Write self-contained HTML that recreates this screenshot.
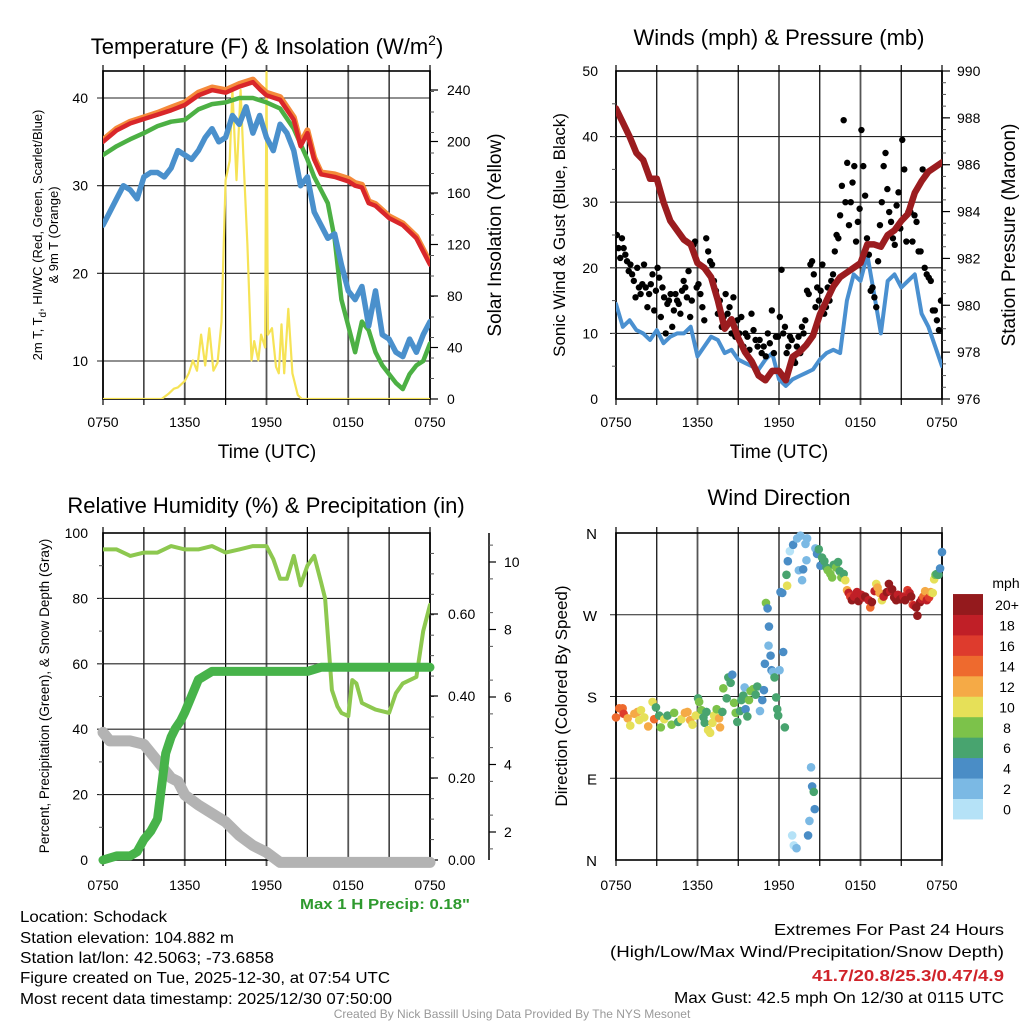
<!DOCTYPE html>
<html><head><meta charset="utf-8"><style>
html,body{margin:0;padding:0;background:#fff;}
svg{display:block;font-family:"Liberation Sans",sans-serif;}
</style></head><body>
<svg id="fig" width="1024" height="1024" viewBox="0 0 1024 1024" xmlns="http://www.w3.org/2000/svg">
<g id="layer"></g>
<g font-size="16" fill="#000">
<text x="20" y="922" textLength="147" lengthAdjust="spacingAndGlyphs">Location: Schodack</text>
<text x="20" y="943" textLength="214" lengthAdjust="spacingAndGlyphs">Station elevation: 104.882 m</text>
<text x="20" y="963" textLength="254" lengthAdjust="spacingAndGlyphs">Station lat/lon: 42.5063; -73.6858</text>
<text x="20" y="983" textLength="370" lengthAdjust="spacingAndGlyphs">Figure created on Tue, 2025-12-30, at 07:54 UTC</text>
<text x="20" y="1004" textLength="372" lengthAdjust="spacingAndGlyphs">Most recent data timestamp: 2025/12/30 07:50:00</text>
<text x="1004" y="935" text-anchor="end" textLength="230" lengthAdjust="spacingAndGlyphs">Extremes For Past 24 Hours</text>
<text x="1004" y="957" text-anchor="end" textLength="394" lengthAdjust="spacingAndGlyphs">(High/Low/Max Wind/Precipitation/Snow Depth)</text>
<text x="1004" y="981" text-anchor="end" fill="#d0232a" font-weight="bold" textLength="192" lengthAdjust="spacingAndGlyphs">41.7/20.8/25.3/0.47/4.9</text>
<text x="1004" y="1003" text-anchor="end" textLength="330" lengthAdjust="spacingAndGlyphs">Max Gust: 42.5 mph On 12/30 at 0115 UTC</text>
<text x="512" y="1018" text-anchor="middle" font-size="12" fill="#999">Created By Nick Bassill Using Data Provided By The NYS Mesonet</text>
<text x="385" y="909" text-anchor="middle" font-size="15" font-weight="bold" fill="#2e9a2e" textLength="170" lengthAdjust="spacingAndGlyphs">Max 1 H Precip: 0.18"</text>
</g>
</svg>
<script>
// ---------- DATA ----------
var tempTimes=[0,1,2,3,4,5,6,7,8,9,10,11,11.5,12,13,14,14.5,15,15.5,16,17,18,18.5,19,19.5,20,21,22,23,24];
var tempRed=[35,36.3,37.1,37.6,38.1,38.6,39.2,40.3,40.9,40.6,41.3,41.8,41.0,40.3,39.8,37.5,34.5,36,33,31.3,31,30.5,30,29.8,28,27.7,26.3,25.5,24,21];
var tempOrange=[35.2,36.5,37.3,37.8,38.3,38.9,39.5,40.6,41.2,40.9,41.6,42.1,41.3,40.6,40.1,37.8,34.8,36.3,33.2,31.5,31.3,30.8,30.3,30.1,28.2,27.9,26.5,25.7,24.2,21.2];
var tempTimesG=[0,1,2,3,4,5,6,7,8,9,10,11,12,13,14,15,15.5,16,16.5,17,17.5,18,18.5,19,19.5,20,20.5,21,21.5,22,22.5,23,23.5,24];
var tempGreen=[33.5,34.5,35.3,36,36.8,37.3,37.5,38.7,39.3,39.5,40,40,39.5,38.8,36.5,33,31,29.5,28,24,17,14,11,14.5,13.5,11,9.5,8.5,7.5,6.8,8.5,9.5,10,12];
var dewTimes=[0,0.5,1,1.5,2,2.5,3,3.5,4,4.5,5,5.5,6,6.5,7,7.5,8,8.5,9,9.5,10,10.5,11,11.5,12,12.5,13,13.5,14,14.5,15,15.5,16,16.5,17,17.5,18,18.5,19,19.5,20,20.5,21,21.5,22,22.5,23,23.5,24];
var dewBlue=[25.5,27,28.5,30,29.5,28.5,31,31.5,31.5,31,32,34,33.5,33,34,35.5,36.5,35,35.5,38,37,39,36,38,35.5,34,37,36,34,30,31,27,25.5,24,24.5,21,18,17,18.5,14,18,13,12.5,11,10.5,12.5,11,13,14.5];
var solarTimes=[0,4.3,4.8,5.2,5.5,6,6.3,6.6,6.9,7.2,7.5,7.8,8.1,8.4,8.7,9.0,9.3,9.5,9.8,10.1,10.3,10.6,10.9,11.1,11.4,11.6,11.9,12.0,12.1,12.4,12.7,12.9,13.1,13.3,13.6,13.9,14.3,14.6,24];
var solarVals=[0,0,4,8,9,14,20,30,22,50,26,55,22,28,60,170,185,240,170,240,190,120,30,45,30,50,40,254,50,55,25,20,58,20,70,20,3,0,0];
var windTimes=dewTimes;
var windVals=[14.5,11,12,10.5,10,9,10.5,8.5,9.5,10,10,11,6.5,8,9.5,9,7,7.5,6,5.5,5,4.5,6,7,3,2,3,3.5,4,4.5,6,7,7.5,7,15,19,18,22,16,10,18,19,17,18,19,13,11,8,5];
var gustGroups=[
[25,23,21.5,24.5,23,22,21,19.5,20.5,19,18,15.5,20,17,16,17.5,20.5,17,14,16,17.5,19,13.5,16.5],
[20,18.5,12.5,17,15.5,10,14.5,15,16,11,13.5,16,15,14.5,13,16.5,18,17,15.5,19.5,12.5,15,23.5,24,17],
[17.5,16,14,12,24.5,22.5,21,20.5,18,16.5,13,15,11,12.5,16,13,14,10,15.5,9.5,12],
[10,12.5,8,10,9.5,7.5,13,10.5,9,8,9,7,8,6.5,10,8.5,13.5,7,9.5,9.5],
[12.5,19.7,10,11,7,8,9.5,9,6,5.5,8,9.5,7,11,10,12,16.5,16,20.5,21,19,14,17,15],
[16.5,20.5,13,14,17,15,18,19,22.5,25,24.5,28,32.5,42.5,30,36,26.5,30,33,35.5,24,27,29],
[41,35.5,31,24.5,22,16.5,17,15.5,14,21,26.5,30,35.5,37.5,32,28.5,27,24.5,23.5,29.5,31.5,26],
[39.5,35,24,28.5,28.5,24,28,27,22.5,22.5,35,20,19,18.5,18,13.5,13.5,12,10.5,15]];
var presTimes=[0,0.5,1,1.5,2,2.5,3,3.5,4,4.5,5,5.5,6,6.5,7,7.5,8,8.5,9,9.5,10,10.5,11,11.5,12,12.5,13,13.5,14,14.5,15,15.5,16,16.5,17,17.5,18,18.5,19,19.5,20,20.5,21,21.5,22,22.5,23,23.5,24];
var presVals=[988.4,987.8,987.2,986.5,986.2,985.4,985.4,984.4,983.6,983.2,982.8,982.6,981.8,981.6,981.2,980.2,979.0,979.4,978.6,978.0,977.6,977.0,976.8,977.2,977.2,976.8,977.8,978.0,978.3,978.7,979.6,980.2,980.8,981.2,981.4,981.6,981.8,982.6,982.6,982.5,983.0,983.2,983.6,983.9,984.8,985.3,985.7,985.9,986.1];
var rhTimes=[0,1,2,3,4,5,6,7,8,9,10,11,12,12.5,13,13.5,14,14.5,15,15.5,16,16.3,16.8,17.2,17.5,18,18.3,18.6,19,19.5,20,21,21.5,22,23,23.5,24];
var rhVals=[95,95,93,94,94,96,95,95,96,94,95,96,96,92,86,86,93,84,90,93,85,80,52,47,45,44,55,54,48,47,46,45,51,54,56,70,78];
var precipTimes=[0,1,2,2.5,3,3.5,4,4.3,4.6,5,5.3,5.7,6,6.5,7,7.5,8,8.5,9,12,15,16,24];
var precipVals=[0,0.01,0.01,0.02,0.05,0.07,0.10,0.18,0.26,0.30,0.32,0.34,0.36,0.40,0.44,0.45,0.46,0.46,0.46,0.46,0.46,0.47,0.47];
var snowTimes=[0,0.5,1,2,3,4,5,5.5,6,7,8,9,10,11,12,13,24];
var snowVals=[4.95,4.7,4.7,4.7,4.6,4.1,3.6,3.5,3.1,2.8,2.55,2.3,1.9,1.6,1.4,1.1,1.1];
var dirTimes=[0,.24,.49,.56,.86,1.05,1.35,1.59,1.84,1.71,2.08,2.37,2.69,2.81,2.94,3.18,3.30,3.55,3.79,4.09,4.28,4.58,4.82,5.07,5.26,5.46,5.63,5.87,6.04,6.12,6.29,6.44,6.53,6.66,6.78,6.93,7.10,7.22,7.41,7.59,7.66,7.83,7.90,8.15,8.27,8.44,8.56,8.69,8.81,8.93,9.13,9.23,9.37,9.47,9.54,9.67,9.79,9.91,10.08,10.28,10.40,10.60,10.77,10.89,10.96,11.04,11.16,11.26,11.23,11.38,11.45,11.55,11.67,11.79,11.87,11.94,12.04,12.11,12.24,12.31,12.43,12.55,12.65,12.60,12.80,13.04,13.34,13.58,13.46,13.70,13.78,13.95,14.02,14.07,12.97,13.09,13.29,14.14,14.24,14.36,14.44,14.56,14.63,14.68,14.80,14.93,15.05,15.17,15.34,15.49,15.59,15.78,15.91,16.03,16.20,16.35,16.47,16.59,16.76,16.88,17.01,17.13,17.25,17.37,17.54,17.74,17.86,18.06,18.23,18.35,18.60,18.72,18.84,19.04,19.16,19.26,19.40,19.58,19.70,19.94,20.09,20.19,20.33,20.48,20.63,20.75,20.92,21.17,21.29,21.46,21.61,21.73,21.85,21.97,22.10,22.19,22.39,22.51,22.63,22.76,22.88,23.05,23.17,23.32,23.42,23.52,23.61,23.74,23.86,24];
var dirVals=[157,167,167,161,156,148,161,163,165,154,157,147,174,155,168,159,146,155,159,149,162,152,155,162,163,154,149,159,178,174,165,157,151,163,143,140,151,159,166,156,146,163,189,178,201,195,204,173,162,152,164,176,181,190,166,158,176,186,188,182,191,164,176,187,216,283,277,257,236,225,209,207,201,179,166,159,209,295,294,229,146,314,329,302,340,347,354,357,319,308,320,348,330,354,27,16,13,27,43,102,81,75,56,343,337,342,324,333,329,322,319,315,311,325,322,328,318,311,315,308,297,294,290,286,290,295,285,292,289,290,286,278,284,296,304,300,294,286,290,295,304,296,298,289,286,292,287,290,286,297,294,290,281,280,278,269,284,287,290,296,286,289,295,294,309,314,315,314,321,339];
var dirSpeeds=[15,14,15,16,12,10,12,13,10,10,10,12,10,15,6,7,8,10,7,8,8,6,10,12,13,13,10,10,6,8,8,7,6,6,10,10,10,10,8,12,13,6,8,6,6,6,4,8,8,6,6,6,7,2,4,6,8,8,8,7,6,2,4,4,4,8,4,4,2,4,4,2,7,6,6,6,2,4,4,4,6,7,4,10,0,4,2,2,2,2,4,2,2,2,0,0,2,4,2,2,4,6,4,2,4,6,4,6,6,6,8,8,8,6,8,6,6,8,6,10,12,18,16,20,18,18,20,18,18,20,18,14,20,18,10,12,12,10,18,20,20,18,20,20,20,18,20,18,20,16,18,20,16,18,20,20,20,18,14,12,18,16,12,10,10,8,7,6,4,4];
var speedColors=["#b5e2f7","#7bb9e4","#4a8dc6","#48a46f","#7cc24a","#e6e058","#f5aa46","#ee6a2e","#de3b2d","#c01f27","#941a1d"];
var speedLabels=["0","2","4","6","8","10","12","14","16","18","20+"];
var timeLabels=["0750","1350","1950","0150","0750"];
var tempTicks=[10,20,30,40];
var solarTicks=[0,40,80,120,160,200,240];
var windTicks=[0,10,20,30,40,50];
var presTicks=[976,978,980,982,984,986,988,990];
var rhTicks=[0,20,40,60,80,100];
var precipTicks=[0,0.2,0.4,0.6];
var snowTicks=[2,4,6,8,10];
var dirTicks=[0,90,180,270,360];
var dirLabels=["N","E","S","W","N"];

// ---------- HELPERS ----------
var NS="http://www.w3.org/2000/svg";
var root=document.getElementById('layer');
function mk(tag,attrs,parent){var e=document.createElementNS(NS,tag);for(var k in attrs)e.setAttribute(k,attrs[k]);(parent||root).appendChild(e);return e;}
function lin(d0,d1,r0,r1){return function(v){return r0+(v-d0)/(d1-d0)*(r1-r0);};}
function pathD(xs,ys,fx,fy){var s="";for(var i=0;i<xs.length;i++){s+=(i?"L":"M")+fx(xs[i]).toFixed(1)+","+fy(ys[i]).toFixed(1);}return s;}
var clipN=0;
function panel(name,L,R,T,B){
  var g=mk('g',{});
  
  
  var id='clip'+(clipN++);
  var cp=mk('clipPath',{id:id},g);mk('rect',{x:L,y:T,width:R-L,height:B-T},cp);
  return {g:g,clip:'url(#'+id+')',L:L,R:R,T:T,B:B,x:lin(0,24,L,R)};
}
function grid(p,yvals,fy){
  for(var i=0;i<=8;i++){var x=p.x(i*3);
    var l=mk('line',{x1:x,x2:x,y1:p.T-6,y2:p.B+6,stroke:i%2?'#000':'#555','stroke-width':i%2?1.2:1.8},p.g);
    
    }
  yvals.forEach(function(v){var y=fy(v);
    var l=mk('line',{x1:p.L-6,x2:p.R,y1:y,y2:y,stroke:'#222','stroke-width':1.1},p.g);
    
    });
  var f=mk('rect',{x:p.L,y:p.T,width:p.R-p.L,height:p.B-p.T,fill:'none',stroke:'#000','stroke-width':1.6},p.g);
  
  
}
function xlabels(p,y){
  timeLabels.forEach(function(s,i){var t=mk('text',{x:p.x(i*6),y:y,'text-anchor':'middle','font-size':14},p.g);t.textContent=s;
    
    });
}
function txt(p,s,x,y,size,anchor,rot,name,fill){
  var a={x:x,y:y,'font-size':size,'text-anchor':anchor||'middle'};
  if(rot)a.transform='rotate(-90 '+x+' '+y+')';
  if(fill)a.fill=fill;
  var t=mk('text',a,p.g);t.textContent=s;
  
  
  return t;
}
function yticks(p,vals,fy,xText,anchor,fmt,name,side){
  vals.forEach(function(v){var y=fy(v);
    if(side==='right'){var l=mk('line',{x1:p.R,x2:p.R+8,y1:y,y2:y,stroke:'#000','stroke-width':1.2},p.g);
      
      }
    var t=mk('text',{x:xText,y:y+5,'text-anchor':anchor,'font-size':14},p.g);t.textContent=fmt?fmt(v):v;
    
    });
}
function minor(p,x,y0,y1,n,dir){
  for(var i=1;i<n;i++){var y=y0+(y1-y0)*i/n;
    var l=mk('line',{x1:x,x2:x+dir*4,y1:y,y2:y,stroke:'#555','stroke-width':1},p.g);
    
    }
}
function line(p,xs,ys,fy,color,w,name){
  var e=mk('path',{d:pathD(xs,ys,p.x,fy),fill:'none',stroke:color,'stroke-width':w,'stroke-linejoin':'round','stroke-linecap':'round','clip-path':p.clip},p.g);
  
  
  return e;
}

// ---------- PANEL 1: Temperature ----------
(function(){
  var p=panel('temperature-panel',103,430,71,399);
  var fy=lin(10,40,361,98), fs=lin(0,240,399,90);
  grid(p,tempTicks,fy);
  minor(p,p.R,p.T,p.B,16,1);
  yticks(p,tempTicks,fy,88,'end',null,'y-tick-label');
  yticks(p,solarTicks,fs,447,'start',null,'y2-tick-label','right');
  line(p,solarTimes,solarVals,fs,'#f6e356',2.2,'solar-line');
  line(p,tempTimesG,tempGreen,fy,'#4cb044',4.5,'heat-index-line');
  line(p,dewTimes,dewBlue,fy,'#4a90cc',5.5,'dewpoint-line');
  line(p,tempTimes,tempOrange,fy,'#f58a3a',6,'temp-9m-line');
  line(p,tempTimes,tempRed,fy,'#d9262a',4.5,'temp-2m-line');
  xlabels(p,427);
  txt(p,'Time (UTC)',267,458,19,'middle',false,'x-axis-title');
  var t=txt(p,'',267,54,22,'middle',false,'chart-title');
  t.innerHTML='Temperature (F) &amp; Insolation (W/m<tspan dy="-9" font-size="14">2</tspan><tspan dy="9">)</tspan>';
  var a=txt(p,'',42,235,13,'middle',true,'y-axis-title');
  a.innerHTML='2m T, T<tspan dy="4" font-size="10">d</tspan><tspan dy="-4">, HI/WC (Red, Green, Scarlet/Blue)</tspan>';
  txt(p,'& 9m T (Orange)',58,235,13,'middle',true,'y-axis-title-2');
  txt(p,'Solar Insolation (Yellow)',501,235,19,'middle',true,'y2-axis-title');
})();

// ---------- PANEL 2: Winds ----------
(function(){
  var p=panel('winds-panel',616,942,71,399);
  var fy=lin(0,50,399,71), fp=lin(976,990,399,71);
  grid(p,[10,20,30,40],fy);
  minor(p,p.R,p.T,p.B,28,1);
  minor(p,p.L,p.T,p.B,10,-1);
  yticks(p,windTicks,fy,598,'end',null,'y-tick-label');
  yticks(p,presTicks,fp,957,'start',null,'y2-tick-label','right');
  line(p,windTimes,windVals,fy,'#4a90d0',4,'wind-line');
  gustGroups.forEach(function(grp,gi){
    grp.forEach(function(v,i){
      var c=mk('circle',{cx:p.x(gi*3+(i+0.5)/grp.length*3),cy:fy(v),r:3.2,fill:'#000','clip-path':p.clip},p.g);
      
      
    });
  });
  line(p,presTimes,presVals,fp,'#9b1c1f',6.5,'pressure-line');
  xlabels(p,427);
  txt(p,'Time (UTC)',779,458,19,'middle',false,'x-axis-title');
  txt(p,'Winds (mph) & Pressure (mb)',779,45,22,'middle',false,'chart-title');
  txt(p,'Sonic Wind & Gust (Blue, Black)',565,235,17,'middle',true,'y-axis-title');
  txt(p,'Station Pressure (Maroon)',1015,235,19,'middle',true,'y2-axis-title');
})();

// ---------- PANEL 3: RH & Precip ----------
(function(){
  var p=panel('humidity-panel',103,430,533,860);
  var fy=lin(0,100,860,533), fpr=lin(0,0.6,860,614), fsn=lin(2,10,832,562);
  grid(p,[20,40,60,80],fy);
  minor(p,p.R,p.T,p.B,16,1);
  minor(p,p.L,p.T,p.B,10,-1);
  yticks(p,rhTicks,fy,88,'end',null,'y-tick-label');
  yticks(p,precipTicks,fpr,448,'start',function(v){return v.toFixed(2);},'y2-tick-label','right');
  var ax=mk('line',{x1:489,x2:489,y1:533,y2:860,stroke:'#000','stroke-width':1.5},p.g);
  
  
  snowTicks.forEach(function(v){var y=fsn(v);
    var l=mk('line',{x1:489,x2:496,y1:y,y2:y,stroke:'#000','stroke-width':1.2},p.g);
    
    
    var t=mk('text',{x:504,y:y+5,'font-size':14},p.g);t.textContent=v;
    
    });
  for(var i=0;i<10;i++){var y=fsn(1.5+i);if(y<533||y>860)continue;
    var l=mk('line',{x1:489,x2:493,y1:y,y2:y,stroke:'#555'},p.g);
    
    }
  var sp=mk('path',{d:pathD(snowTimes,snowVals,p.x,fsn),fill:'none',stroke:'#b3b3b3','stroke-width':11,'stroke-linejoin':'round','stroke-linecap':'round'},p.g);
  
  
  line(p,rhTimes,rhVals,fy,'#8dc84f',4,'rh-line');
  var pp=mk('path',{d:pathD(precipTimes,precipVals,p.x,fpr),fill:'none',stroke:'#47b34a','stroke-width':9,'stroke-linejoin':'round','stroke-linecap':'round'},p.g);
  
  
  xlabels(p,890);
  txt(p,'Relative Humidity (%) & Precipitation (in)',266,513,22,'middle',false,'chart-title');
  txt(p,'Percent, Precipitation (Green), & Snow Depth (Gray)',49,696,13.5,'middle',true,'y-axis-title');
})();

// ---------- PANEL 4: Wind Direction ----------
(function(){
  var p=panel('direction-panel',616,942,533,860);
  var fy=lin(0,360,860,533);
  grid(p,[90,180,270],fy);
  dirTicks.forEach(function(v,i){var t=mk('text',{x:597,y:fy(v)+6,'text-anchor':'end','font-size':15},p.g);t.textContent=dirLabels[i];
    
    });
  dirTimes.forEach(function(t,i){
    var bin=Math.min(10,Math.floor(dirSpeeds[i]/2));
    var c=mk('circle',{cx:p.x(t),cy:fy(dirVals[i]),r:4.3,fill:speedColors[bin]},p.g);
    
    
  });
  speedColors.forEach(function(col,i){
    var y=819-(i+1)*20.45;
    var r=mk('rect',{x:953,y:y,width:30,height:20.9,fill:col},p.g);
    
    
    var t=mk('text',{x:1007,y:y+16,'text-anchor':'middle','font-size':14},p.g);t.textContent=speedLabels[i];
    
    
  });
  txt(p,'mph',1006,588,14,'middle',false,'colorbar-title');
  xlabels(p,890);
  txt(p,'Wind Direction',779,505,22,'middle',false,'chart-title');
  txt(p,'Direction (Colored By Speed)',567,696,17,'middle',true,'y-axis-title');
})();
</script>
</body></html>
